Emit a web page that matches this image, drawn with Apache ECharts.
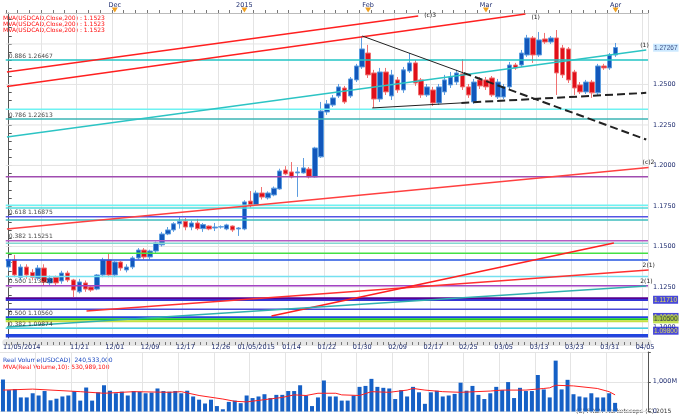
<!DOCTYPE html>
<html><head><meta charset="utf-8">
<script src="https://cdn.jsdelivr.net/npm/echarts@6/dist/echarts.min.js"></script>
<style>html,body{margin:0;padding:0;background:#fff}#c{width:680px;height:415px}</style>
</head><body><div id="c"></div>
<script>
const dates = ['11/05','11/06','11/07','11/10','11/11','11/12','11/13','11/14','11/17','11/18','11/19','11/20','11/21','11/24','11/25','11/26','11/27','11/28',
'12/01','12/02','12/03','12/04','12/05','12/08','12/09','12/10','12/11','12/12','12/15','12/16','12/17','12/18','12/19','12/22','12/23','12/24','12/26','12/29','12/30','12/31',
'01/02','01/05','01/06','01/07','01/08','01/09','01/12','01/13','01/14','01/15','01/16','01/19','01/20','01/21','01/22','01/23','01/26','01/27','01/28','01/29','01/30',
'02/02','02/03','02/04','02/05','02/06','02/09','02/10','02/11','02/12','02/13','02/16','02/17','02/18','02/19','02/20','02/23','02/24','02/25','02/26','02/27',
'03/02','03/03','03/04','03/05','03/06','03/09','03/10','03/11','03/12','03/13','03/16','03/17','03/18','03/19','03/20','03/23','03/24','03/25','03/26','03/27','03/30','03/31',
'04/01','04/02','04/03','04/06','04/07','04/08'];
const opens = [1.1373,1.1417,1.1310,1.1373,1.1340,1.1305,1.1367,1.1275,1.1310,1.1287,1.1336,1.1293,1.1220,1.1275,1.1250,1.1237,1.1324,1.1417,1.1324,1.1404,1.1355,1.1373,1.1429,1.1478,1.1435,1.1472,1.1510,1.1577,1.1602,1.1640,1.1655,1.1620,1.1645,1.1610,1.1626,1.1614,1.1620,1.1608,1.1626,1.1608,1.1608,1.1780,1.1756,1.1830,1.1800,1.1818,1.1855,1.1972,1.1960,1.1954,1.1954,1.1978,1.1929,1.2053,
1.2330,1.2373,1.2429,1.2478,1.2429,1.2528,1.2608,1.2694,1.2571,1.2410,1.2577,1.2429,1.2528,1.2466,1.2583,1.2633,1.2528,1.2435,1.2466,1.2386,1.2454,1.2497,1.2515,1.2565,1.2485,1.2392,1.2528,1.2528,1.2540,1.2423,1.2423,1.2485,1.2620,1.2620,1.2682,1.2787,1.2682,1.2781,1.2762,1.2787,1.2725,1.2719,1.2577,1.2497,1.2454,1.2515,1.2448,1.2614,1.2602,1.2682];
const closes = [1.1417,1.1324,1.1373,1.1324,1.1310,1.1367,1.1280,1.1305,1.1275,1.1336,1.1293,1.1231,1.1281,1.1237,1.1231,1.1324,1.1417,1.1324,1.1404,1.1367,1.1373,1.1429,1.1478,1.1435,1.1472,1.1522,1.1577,1.1602,1.1640,1.1655,1.1620,1.1645,1.1610,1.1635,1.1608,1.1620,1.1622,1.1633,1.1602,1.1614,1.1775,1.1756,1.1830,1.1805,1.1830,1.1860,1.1966,1.1948,1.1929,1.1960,1.1985,1.1929,1.2108,1.2336,
1.2380,1.2417,1.2485,1.2392,1.2534,1.2614,1.2719,1.2559,1.2410,1.2577,1.2454,1.2559,1.2466,1.2590,1.2633,1.2509,1.2435,1.2485,1.2386,1.2485,1.2528,1.2546,1.2571,1.2485,1.2435,1.2515,1.2491,1.2485,1.2435,1.2515,1.2485,1.2620,1.2602,1.2694,1.2787,1.2682,1.2775,1.2762,1.2787,1.2571,1.2559,1.2528,1.2478,1.2454,1.2515,1.2448,1.2614,1.2602,1.2682,1.2728];
const lows = [1.1350,1.1310,1.1290,1.1300,1.1290,1.1290,1.1260,1.1260,1.1260,1.1270,1.1280,1.1188,1.1210,1.1220,1.1220,1.1230,1.1310,1.1310,1.1310,1.1350,1.1340,1.1360,1.1420,1.1420,1.1420,1.1460,1.1500,1.1570,1.1590,1.1610,1.1600,1.1600,1.1600,1.1590,1.1600,1.1595,1.1610,1.1600,1.1590,1.1565,1.1600,1.1740,1.1750,1.1790,1.1790,1.1810,1.1850,1.1940,1.1920,1.1806,1.1950,1.1920,1.1925,1.2046,
1.2312,1.2361,1.2417,1.2380,1.2417,1.2515,1.2596,1.2540,1.2355,1.2392,1.2435,1.2404,1.2448,1.2448,1.2571,1.2491,1.2417,1.2423,1.2367,1.2373,1.2435,1.2478,1.2497,1.2466,1.2417,1.2380,1.2472,1.2466,1.2423,1.2410,1.2410,1.2466,1.2590,1.2608,1.2670,1.2633,1.2670,1.2750,1.2750,1.2435,1.2540,1.2509,1.2435,1.2441,1.2441,1.2417,1.2435,1.2590,1.2590,1.2670];
const highs = [1.1430,1.1448,1.1390,1.1390,1.1360,1.1385,1.1390,1.1320,1.1320,1.1350,1.1350,1.1300,1.1300,1.1290,1.1260,1.1330,1.1430,1.1454,1.1410,1.1410,1.1390,1.1440,1.1490,1.1490,1.1480,1.1530,1.1590,1.1620,1.1650,1.1680,1.1675,1.1660,1.1670,1.1645,1.1630,1.1645,1.1630,1.1640,1.1630,1.1620,1.1785,1.1842,1.1845,1.1867,1.1840,1.1870,1.1980,1.1996,1.2021,1.1990,1.2046,1.1990,1.2115,1.2392,
1.2404,1.2435,1.2503,1.2491,1.2546,1.2627,1.2799,1.2744,1.2590,1.2602,1.2602,1.2590,1.2546,1.2608,1.2694,1.2651,1.2540,1.2503,1.2485,1.2503,1.2559,1.2577,1.2590,1.2657,1.2503,1.2534,1.2546,1.2546,1.2552,1.2534,1.2503,1.2639,1.2633,1.2713,1.2806,1.2799,1.2824,1.2818,1.2799,1.2836,1.2744,1.2731,1.2590,1.2515,1.2528,1.2528,1.2627,1.2627,1.2694,1.2756];
const volumes = [1075,720,753,473,473,613,538,688,376,430,505,538,688,366,806,366,645,882,699,613,667,538,688,667,613,634,774,688,667,688,613,699,505,398,269,398,183,75,323,366,280,538,452,505,581,452,559,559,688,688,882,538,183,473,1043,505,505,
366,366,538,828,860,1097,828,796,774,419,720,505,828,645,258,645,699,505,538,591,968,699,860,559,419,613,828,720,989,452,796,688,688,1226,742,473,1710,742,1065,581,505,473,613,473,473,613,290];
const volMA = [[0,720],[5,753],[13,667],[17,613],[22,667],[28,645],[30,667],[33,538],[37,419],[39,344],[41,323],[44,398],[47,473],[49,559],[51,538],[53,613],[56,613],
[57,559],[60,538],[62,667],[65,645],[68,720],[69,774],[71,720],[74,667],[77,645],[82,688],[84,720],[88,720],[91,774],[92,796],[93,882],[96,860],[100,774],[102,667],[103,559]];
const bottomLabelIdx = [0,12,18,24,30,36,42,48,54,60,66,72,78,84,90,96,102,108];
const bottomLabelText = ['11/05/2014','11/21','12/01','12/09','12/17','12/26','01/05/2015','01/14','01/22','01/30','02/09','02/17','02/25','03/05','03/13','03/23','03/31','04/05'];
const gridLineIdx = [6,12,18,24,30,36,42,48,54,60,66,72,78,84,90,96,102,108];
const monthIdx = [18,40,61,81,103];
const monthText = ['Dec','2015','Feb','Mar','Apr'];
const priceTicks = [1.1,1.125,1.15,1.175,1.2,1.225,1.25];
const gridPrices = [1.1,1.125,1.15,1.175,1.2,1.225,1.25,1.275];
const levelValues = [1.2651,1.2347,1.2287,1.1931,1.1754,1.1738,1.1684,1.1664,1.1536,1.1520,1.1458,1.1417,1.1314,1.1258,1.1180,1.1170,1.1112,1.1063,1.1051,1.1038,1.0995,1.0954,1.0943];
const levelColors = ['#22c4c4','#6ef2f2','#3cb4b4','#a04cb0','#6ef2f2','#4cdcdc','#5454e4','#3cbcbc','#b45cc4','#84d8d0','#44e044','#2454e0','#74e0f0','#a444c4','#560090','#3434d4','#4848d8','#2044e0','#20cc20','#c8e040','#44d0e0','#2044e0','#2a44d8'];
const levelWidths = [1.5,1.5,1.5,1.5,1.5,1.5,1.5,1.5,1.5,1.5,1.5,1.5,1.5,1.5,2,2,1.5,2,2,2,1.5,2,1.5];
const fibValues = [1.2651,1.2287,1.1684,1.1536,1.1258,1.1063,1.0995];
const fibText = ['0.886 1.26467','0.786 1.22613','0.618 1.16875','0.382 1.15251','0.500 1.13503','0.500 1.10560','0.382 1.09874'];
const tagValues = [1.27267,1.1171,1.1065,1.105,1.098];
const tagText = ['1.27267','1.11710','1.10650','1.10500','1.09800'];
const tagBg = ['#bfe3ff','#1a1ad0','#1a1ad0','#b4d82c','#1a1ad0'];
const tagFg = ['#1a2a6a','#ffff40','#ffff40','#1a1a40','#ffff40'];
const trendLines = [
  [-0.3,1.2577,69.5,1.2923],
  [-0.3,1.2488,87.7,1.2935],
  [-0.3,1.1608,108.6,1.1988],
  [13.2,1.1102,108.6,1.1355],
  [44.6,1.1071,102.7,1.1522],
  [-0.3,1.2176,108.2,1.2713],
  [-0.3,1.1003,108.2,1.1256],
  [60,1.2799,77.2,1.2571],
  [77.2,1.2571,108.2,1.2160],
  [61.7,1.2355,76.8,1.2386],
  [76.8,1.2386,108.2,1.2448]
];
const trendText = ['(c)3','(1)','(c)2','2(1)','','(1)','2(1)','','','',''];
const trendLabelOffset = [[-2,0],[-2,3],[-14,-5],[-14,-5],[0,0],[-14,-5],[-14,-5],[0,0],[0,0],[0,0],[0,0]];
const trendColor = ['#ff2020','#ff2020','#ff4040','#ff3030','#ff2020','#2cc4c4','#30b0b0','#222','#222','#222','#222'];
const trendType = ['solid','solid','solid','solid','solid','solid','solid','solid','dashed','solid','dashed'];
const trendWidth = [1.5,1.5,1.5,1.5,1.5,1.5,1.5,1,2,1,2];

const FONT = 'DejaVu Sans';
const NARROW = 'Liberation Sans';
const NAVY = '#1f2d70';
const X0 = -0.5, X1 = 108.5;
const candleData = opens.map((o,i)=>[o,closes[i],lows[i],highs[i]]);
const minorTicks = [];
for (let v=1.095; v<1.2941; v+=0.005) minorTicks.push(+v.toFixed(3));

const series = [];
gridPrices.forEach(v=>series.push({type:'line', xAxisIndex:2, yAxisIndex:0, data:[[X0,v],[X1,v]], showSymbol:false, silent:true, z:0,
  lineStyle:{color:'#e4e4e4', width:1}}));
series.push({
  type:'candlestick', name:'USDCAD', xAxisIndex:0, yAxisIndex:0, data:candleData, barWidth:5, z:3,
  itemStyle:{color:'#1257bb', color0:'#e0101a', borderColor:'#5d9de0', borderColor0:'#f07070', borderWidth:1},
  markPoint:{silent:true, animation:false, symbol:'triangle', symbolRotate:180, symbolSize:[6,5], symbolOffset:[0,-3], itemStyle:{color:'#f0a020'}, label:{show:false},
    data: monthIdx.map(i=>({coord:[i,1.2941]}))}
});
levelValues.forEach((v,i)=>series.push({type:'line', xAxisIndex:2, yAxisIndex:0, data:[[X0,v],[X1,v]], showSymbol:false, silent:true, z:4,
  lineStyle:{color:levelColors[i], width:levelWidths[i]}}));
trendLines.forEach((t,k)=>{
  series.push({type:'line', xAxisIndex:2, yAxisIndex:0, data:[[t[0],t[1]],[t[2],t[3]]], showSymbol:false, silent:true, z:5,
    lineStyle:{color:trendColor[k], width:trendWidth[k], type:trendType[k]},
    endLabel:{show: !!trendText[k], formatter: trendText[k], fontSize:6, fontFamily:FONT, color:'#222', offset:trendLabelOffset[k]}});
});
series.push({type:'scatter', xAxisIndex:2, yAxisIndex:0, symbolSize:0.1, silent:true, z:6, clip:false,
  data: fibValues.map((v,i)=>({value:[X0,v], label:{show:true, position:'right', formatter:fibText[i], fontSize:6, fontFamily:FONT, color:'#111', offset:[-2,-4]}}))});
series.push({type:'scatter', xAxisIndex:2, yAxisIndex:0, symbolSize:0.1, silent:true, z:6, clip:false,
  data: tagValues.map((v,i)=>({value:[X1,v], label:{show:true, position:'right', distance:5, formatter:tagText[i], fontSize:6.5, fontFamily:NARROW, color:tagFg[i], backgroundColor:tagBg[i], padding:[1,1,0,1]}}))});
series.push({type:'bar', xAxisIndex:3, yAxisIndex:1, data:volumes, barWidth:4, itemStyle:{color:'#1560c6'}, silent:true});
series.push({type:'line', xAxisIndex:3, yAxisIndex:1, data:volMA, showSymbol:false, silent:true, lineStyle:{color:'#ff2020', width:1}, z:5});

const option = {
  animation:false,
  backgroundColor:'#ffffff',
  grid:[{left:0, top:13, width:648, height:325}, {left:0, top:352, width:648, height:62}],
  xAxis:[
    {type:'category', gridIndex:0, data:dates, boundaryGap:true, position:'bottom', offset:4,
      axisLine:{lineStyle:{color:'#e6e6e6', width:7}},
      axisTick:{show:true, interval:0, length:3, lineStyle:{color:'#777'}},
      axisLabel:{show:true, interval:(i)=>bottomLabelIdx.includes(i), fontSize:6.5, fontFamily:FONT, color:NAVY, margin:2,
        formatter:(v,i)=>{const k=bottomLabelIdx.indexOf(i); if(k<0) return ''; return k===0? '{f|'+bottomLabelText[k]+'}' : bottomLabelText[k];},
        rich:{f:{padding:[0,0,0,26], fontSize:6.5, fontFamily:FONT, color:NAVY}}},
      splitLine:{show:true, interval:(i)=>gridLineIdx.includes(i), lineStyle:{color:'#e4e4e4'}}},
    {type:'category', gridIndex:0, data:dates, boundaryGap:true, position:'top',
      axisLine:{show:true, lineStyle:{color:'#bbbbbb'}},
      axisTick:{show:true, interval:1, length:3, lineStyle:{color:'#777'}},
      axisLabel:{show:true, interval:(i)=>monthIdx.includes(i), fontSize:6.5, fontFamily:FONT, color:NAVY, margin:4,
        formatter:(v,i)=>{const k=monthIdx.indexOf(i); return k<0?'':monthText[k];}}},
    {type:'value', gridIndex:0, min:X0, max:X1, show:false},
    {type:'category', gridIndex:1, data:dates, boundaryGap:true,
      axisLine:{show:false}, axisTick:{show:false}, axisLabel:{show:false},
      splitLine:{show:true, interval:(i)=>gridLineIdx.includes(i), lineStyle:{color:'#e4e4e4'}}}
  ],
  yAxis:[
    {type:'value', gridIndex:0, position:'right', min:1.0935, max:1.2941, scale:true,
      axisLine:{show:true, lineStyle:{color:'#555'}},
      axisTick:{show:true, customValues:minorTicks, length:3, lineStyle:{color:'#555'}},
      axisLabel:{show:true, customValues:priceTicks, formatter:(v)=>v.toFixed(4), fontSize:6.5, fontFamily:FONT, color:NAVY, margin:5},
      splitLine:{show:false}},
    {type:'value', gridIndex:1, position:'right', min:0, max:2000, interval:1000,
      axisLine:{show:true, lineStyle:{color:'#555'}},
      axisTick:{show:true, length:3, lineStyle:{color:'#555'}},
      axisLabel:{fontSize:6.5, fontFamily:FONT, color:NAVY, margin:5, formatter:(v)=> v===1000?'1,000M':(v===0?'0':'')},
      splitLine:{show:true, lineStyle:{color:'#e4e4e4'}}}
  ],
  graphic:[
    {type:'text', left:3, top:15, style:{text:'MVA(USDCAD,Close,200) : 1.1523', fill:'#ff1010', font:'6px "DejaVu Sans"'}},
    {type:'text', left:3, top:21, style:{text:'MVA(USDCAD,Close,200) : 1.1523', fill:'#ff1010', font:'6px "DejaVu Sans"'}},
    {type:'text', left:3, top:27, style:{text:'MVA(USDCAD,Close,200) : 1.1523', fill:'#ff1010', font:'6px "DejaVu Sans"'}},
    {type:'text', left:3, top:357, style:{text:'Real Volume(USDCAD): 240,533,000', fill:'#1a48c0', font:'6px "DejaVu Sans"'}},
    {type:'text', left:3, top:364, style:{text:'MVA(Real Volume,10): 530,989,100', fill:'#ff1010', font:'6px "DejaVu Sans"'}},
    {type:'text', left:576, top:408, style:{text:'(C) FXCM Marketscope (C) 2015', fill:'#333', font:'6px "DejaVu Sans"'}}
  ],
  series
};
const chart = echarts.init(document.getElementById('c'));
chart.setOption(option);
</script></body></html>
